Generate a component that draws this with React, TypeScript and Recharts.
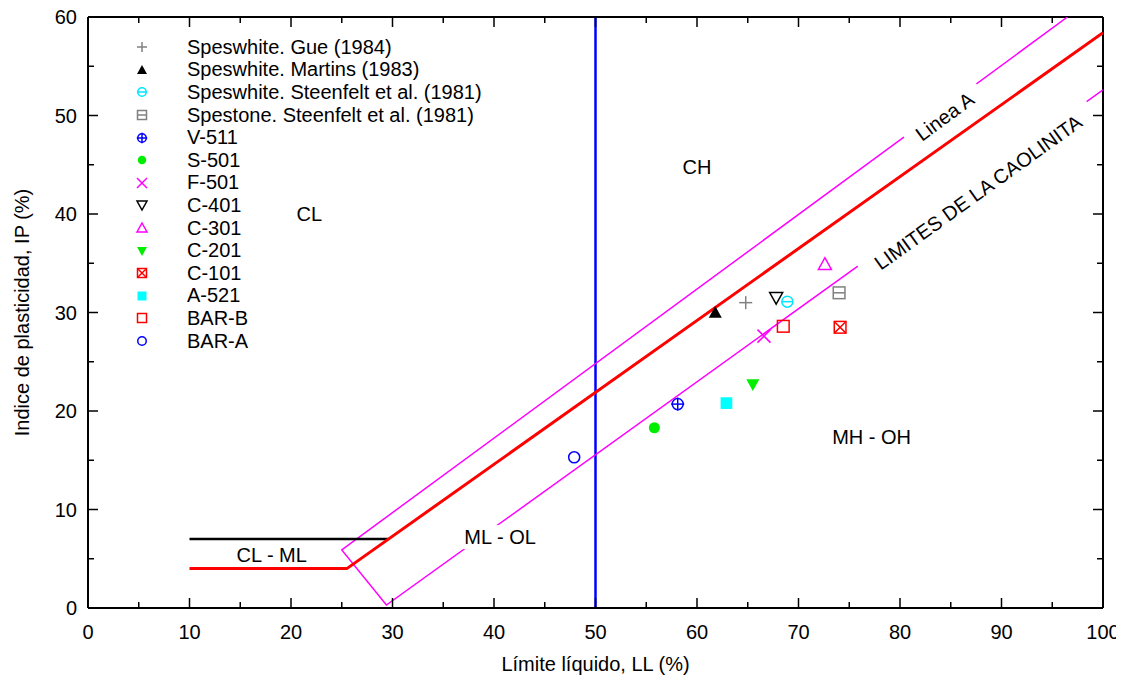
import React from "react";
import { ScatterChart, Scatter, XAxis, YAxis, ReferenceLine, Legend } from "recharts";

const FONT = "'Liberation Sans', Arial, Helvetica, sans-serif";
const FS = 20;

// tick values (labels only on multiples of 10)
const xTicks = [0, 5, 10, 15, 20, 25, 30, 35, 40, 45, 50, 55, 60, 65, 70, 75, 80, 85, 90, 95, 100];
const yTicks = [0, 5, 10, 15, 20, 25, 30, 35, 40, 45, 50, 55, 60];

// measured points (LL %, IP %)
const gue1984 = [{ ll: 64.8, ip: 31.0 }];
const martins1983 = [{ ll: 61.8, ip: 30.0 }];
const steenfeltSpeswhite = [{ ll: 68.9, ip: 31.1 }];
const steenfeltSpestone = [{ ll: 74.0, ip: 32.0 }];
const v511 = [{ ll: 58.1, ip: 20.7 }];
const s501 = [{ ll: 55.8, ip: 18.3 }];
const f501 = [{ ll: 66.6, ip: 27.6 }];
const c401 = [{ ll: 67.8, ip: 31.5 }];
const c301 = [{ ll: 72.6, ip: 34.9 }];
const c201 = [{ ll: 65.5, ip: 22.7 }];
const c101 = [{ ll: 74.1, ip: 28.5 }];
const a521 = [{ ll: 62.9, ip: 20.8 }];
const barB = [{ ll: 68.5, ip: 28.6 }];
const barA = [{ ll: 47.9, ip: 15.3 }];

// chart lines
const clMlLine = [{ ll: 10, ip: 7 }, { ll: 29.6, ip: 7 }];
const lineA = [{ ll: 10, ip: 4 }, { ll: 25.5, ip: 4 }, { ll: 100, ip: 58.4 }];
const kaoliniteBand = [
  { ll: 100, ip: 52.6 },
  { ll: 29.4, ip: 0.3 },
  { ll: 25.0, ip: 5.9 },
  { ll: 96.5, ip: 60 },
];

// text annotations
const zoneLabels = [
  { ll: 60.0, ip: 44.8, text: "CH", angle: 0 },
  { ll: 21.8, ip: 40.0, text: "CL", angle: 0 },
  { ll: 77.2, ip: 17.4, text: "MH - OH", angle: 0 },
  { ll: 40.6, ip: 7.2, text: "ML - OL", angle: 0 },
  { ll: 18.1, ip: 5.4, text: "CL - ML", angle: 0 },
  { ll: 84.4, ip: 49.9, text: "Linea A", angle: -36.3 },
  { ll: 87.7, ip: 42.2, text: "LIMITES DE LA CAOLINITA", angle: -35.7 },
];

const series = [
  { name: "Speswhite. Gue (1984)", data: gue1984, kind: "plus", color: "#808080" },
  { name: "Speswhite. Martins (1983)", data: martins1983, kind: "triUpFill", color: "#000000" },
  { name: "Speswhite. Steenfelt et al. (1981)", data: steenfeltSpeswhite, kind: "circleBar", color: "#00e5ff" },
  { name: "Spestone. Steenfelt et al. (1981)", data: steenfeltSpestone, kind: "squareBar", color: "#808080" },
  { name: "V-511", data: v511, kind: "circlePlus", color: "#0000ff" },
  { name: "S-501", data: s501, kind: "dot", color: "#00ee00" },
  { name: "F-501", data: f501, kind: "cross", color: "#ff00ff" },
  { name: "C-401", data: c401, kind: "triDown", color: "#000000" },
  { name: "C-301", data: c301, kind: "triUp", color: "#ff00ff" },
  { name: "C-201", data: c201, kind: "triDownFill", color: "#00ee00" },
  { name: "C-101", data: c101, kind: "squareX", color: "#ff0000" },
  { name: "A-521", data: a521, kind: "squareFill", color: "#00ffff" },
  { name: "BAR-B", data: barB, kind: "square", color: "#ff0000" },
  { name: "BAR-A", data: barA, kind: "circle", color: "#0000ff" },
];

const Marker = ({ kind, color, cx, cy, s }: { kind: string; color: string; cx: number; cy: number; s: number }) => {
  const sw = 1.5;
  const tri = (up: boolean) =>
    up
      ? `${cx},${cy - s} ${cx + s},${cy + s * 0.8} ${cx - s},${cy + s * 0.8}`
      : `${cx},${cy + s} ${cx + s},${cy - s * 0.8} ${cx - s},${cy - s * 0.8}`;
  const r = s * 0.85;
  switch (kind) {
    case "plus":
      return (
        <g stroke={color} strokeWidth={sw}>
          <line x1={cx - s} y1={cy} x2={cx + s} y2={cy} />
          <line x1={cx} y1={cy - s} x2={cx} y2={cy + s} />
        </g>
      );
    case "cross":
      return (
        <g stroke={color} strokeWidth={sw}>
          <line x1={cx - s} y1={cy - s} x2={cx + s} y2={cy + s} />
          <line x1={cx - s} y1={cy + s} x2={cx + s} y2={cy - s} />
        </g>
      );
    case "triUpFill":
      return <polygon points={tri(true)} fill={color} />;
    case "triDownFill":
      return <polygon points={tri(false)} fill={color} />;
    case "triUp":
      return <polygon points={tri(true)} fill="none" stroke={color} strokeWidth={sw} />;
    case "triDown":
      return <polygon points={tri(false)} fill="none" stroke={color} strokeWidth={sw} />;
    case "circleBar":
      return (
        <g stroke={color} strokeWidth={sw} fill="none">
          <circle cx={cx} cy={cy} r={r} />
          <line x1={cx - r} y1={cy} x2={cx + r} y2={cy} />
        </g>
      );
    case "circlePlus":
      return (
        <g stroke={color} strokeWidth={sw} fill="none">
          <circle cx={cx} cy={cy} r={r} />
          <line x1={cx - r - 1} y1={cy} x2={cx + r + 1} y2={cy} />
          <line x1={cx} y1={cy - r - 1} x2={cx} y2={cy + r + 1} />
        </g>
      );
    case "circle":
      return <circle cx={cx} cy={cy} r={r} fill="none" stroke={color} strokeWidth={sw} />;
    case "dot":
      return <circle cx={cx} cy={cy} r={r} fill={color} />;
    case "squareBar":
      return (
        <g stroke={color} strokeWidth={sw} fill="none">
          <rect x={cx - s * 0.9} y={cy - s * 0.9} width={s * 1.8} height={s * 1.8} />
          <line x1={cx - s * 0.9} y1={cy} x2={cx + s * 0.9} y2={cy} />
        </g>
      );
    case "squareX":
      return (
        <g stroke={color} strokeWidth={sw} fill="none">
          <rect x={cx - s * 0.9} y={cy - s * 0.9} width={s * 1.8} height={s * 1.8} />
          <line x1={cx - s * 0.9} y1={cy - s * 0.9} x2={cx + s * 0.9} y2={cy + s * 0.9} />
          <line x1={cx - s * 0.9} y1={cy + s * 0.9} x2={cx + s * 0.9} y2={cy - s * 0.9} />
        </g>
      );
    case "squareFill":
      return <rect x={cx - s * 0.9} y={cy - s * 0.9} width={s * 1.8} height={s * 1.8} fill={color} />;
    default:
      return <rect x={cx - s * 0.9} y={cy - s * 0.9} width={s * 1.8} height={s * 1.8} fill="none" stroke={color} strokeWidth={sw} />;
  }
};

const noShape = () => <g />;

const LabelShape = (props: any) => {
  const { cx, cy, payload } = props;
  const w = payload.text.length * FS * 0.6 + 6;
  const h = FS + 4;
  return (
    <g transform={`rotate(${payload.angle} ${cx} ${cy})`}>
      <rect x={cx - w / 2} y={cy - h / 2} width={w} height={h} fill="#ffffff" />
      <text x={cx} y={cy} textAnchor="middle" dominantBaseline="central" fontSize={FS} fontFamily={FONT} fill="#000">
        {payload.text}
      </text>
    </g>
  );
};

const tickLen = (v: number) => (v % 10 === 0 ? 10 : 6);

const BottomTick = ({ x, y, payload }: any) => {
  const v = payload.value;
  return (
    <g>
      {v > 0 && v < 100 && <line x1={x} y1={y} x2={x} y2={y - tickLen(v)} stroke="#000" strokeWidth={1.5} />}
      {v % 10 === 0 && (
        <text x={x} y={y + 24} textAnchor="middle" dominantBaseline="central" fontSize={FS} fontFamily={FONT} fill="#000">
          {v}
        </text>
      )}
    </g>
  );
};

const TopTick = ({ x, y, payload }: any) => {
  const v = payload.value;
  if (v <= 0 || v >= 100) return <g />;
  return <line x1={x} y1={y} x2={x} y2={y + tickLen(v)} stroke="#000" strokeWidth={1.5} />;
};

const LeftTick = ({ x, y, payload }: any) => {
  const v = payload.value;
  return (
    <g>
      {v > 0 && v < 60 && <line x1={x} y1={y} x2={x + tickLen(v)} y2={y} stroke="#000" strokeWidth={1.5} />}
      {v % 10 === 0 && (
        <text x={x - 11} y={y} textAnchor="end" dominantBaseline="central" fontSize={FS} fontFamily={FONT} fill="#000">
          {v}
        </text>
      )}
    </g>
  );
};

const RightTick = ({ x, y, payload }: any) => {
  const v = payload.value;
  if (v <= 0 || v >= 60) return <g />;
  return <line x1={x} y1={y} x2={x - tickLen(v)} y2={y} stroke="#000" strokeWidth={1.5} />;
};

const LegendBox = () => (
  <div style={{ fontFamily: FONT, fontSize: FS, color: "#000" }}>
    {series.map((s) => (
      <div key={s.name} style={{ display: "flex", alignItems: "center", height: 22.6 }}>
        <svg width={16} height={16} style={{ overflow: "visible" }}>
          <Marker kind={s.kind} color={s.color} cx={8} cy={8} s={5} />
        </svg>
        <span style={{ marginLeft: 37, whiteSpace: "nowrap" }}>{s.name}</span>
      </div>
    ))}
  </div>
);

const axisLine = { stroke: "#000", strokeWidth: 2 };

export default function App() {
  return (
    <div style={{ position: "relative", left: -8, top: -8, width: 1124, height: 684, background: "#fff" }}>
      <ScatterChart width={1124} height={684} margin={{ top: 16, right: 20, bottom: 75, left: 87 }}>
        <XAxis
          dataKey="ll"
          type="number"
          domain={[0, 100]}
          ticks={xTicks}
          interval={0}
          allowDataOverflow
          height={1}
          tickSize={0}
          tickMargin={0}
          tickLine={false}
          axisLine={axisLine}
          tick={BottomTick}
          label={({ viewBox }: any) => (
            <text
              x={viewBox.x + viewBox.width / 2}
              y={viewBox.y + 56}
              textAnchor="middle"
              dominantBaseline="central"
              fontSize={FS}
              fontFamily={FONT}
              fill="#000"
            >
              Límite líquido, LL (%)
            </text>
          )}
        />
        <XAxis
          xAxisId="top"
          orientation="top"
          dataKey="ll"
          type="number"
          domain={[0, 100]}
          ticks={xTicks}
          interval={0}
          allowDataOverflow
          height={1}
          tickSize={0}
          tickMargin={0}
          tickLine={false}
          axisLine={axisLine}
          tick={TopTick}
        />
        <YAxis
          dataKey="ip"
          type="number"
          domain={[0, 60]}
          ticks={yTicks}
          interval={0}
          allowDataOverflow
          width={1}
          tickSize={0}
          tickMargin={0}
          tickLine={false}
          axisLine={axisLine}
          tick={LeftTick}
          label={({ viewBox }: any) => {
            const cy = viewBox.y + viewBox.height / 2;
            return (
              <text
                x={22}
                y={cy}
                transform={`rotate(-90 22 ${cy})`}
                textAnchor="middle"
                dominantBaseline="central"
                fontSize={FS}
                fontFamily={FONT}
                fill="#000"
              >
                Indice de plasticidad, IP (%)
              </text>
            );
          }}
        />
        <YAxis
          yAxisId="right"
          orientation="right"
          dataKey="ip"
          type="number"
          domain={[0, 60]}
          ticks={yTicks}
          interval={0}
          allowDataOverflow
          width={1}
          tickSize={0}
          tickMargin={0}
          tickLine={false}
          axisLine={axisLine}
          tick={RightTick}
        />

        <Scatter data={kaoliniteBand} line={{ stroke: "#ff00ff", strokeWidth: 1.5 }} shape={noShape} isAnimationActive={false} legendType="none" />
        <Scatter data={clMlLine} line={{ stroke: "#000000", strokeWidth: 2.5 }} shape={noShape} isAnimationActive={false} legendType="none" />
        <Scatter data={lineA} line={{ stroke: "#ff0000", strokeWidth: 3 }} shape={noShape} isAnimationActive={false} legendType="none" />
        <ReferenceLine x={50} stroke="#0000ff" strokeWidth={2.5} />
        <Scatter data={zoneLabels} shape={LabelShape} isAnimationActive={false} legendType="none" />

        {series.map((s) => (
          <Scatter
            key={s.name}
            name={s.name}
            data={s.data}
            isAnimationActive={false}
            shape={(p: any) => <Marker kind={s.kind} color={s.color} cx={p.cx} cy={p.cy} s={6.5} />}
          />
        ))}

        <Legend
          layout="vertical"
          align="center"
          verticalAlign="middle"
          content={<LegendBox />}
          wrapperStyle={{ left: 134, top: 36, width: "auto", height: "auto" }}
        />
      </ScatterChart>
    </div>
  );
}
